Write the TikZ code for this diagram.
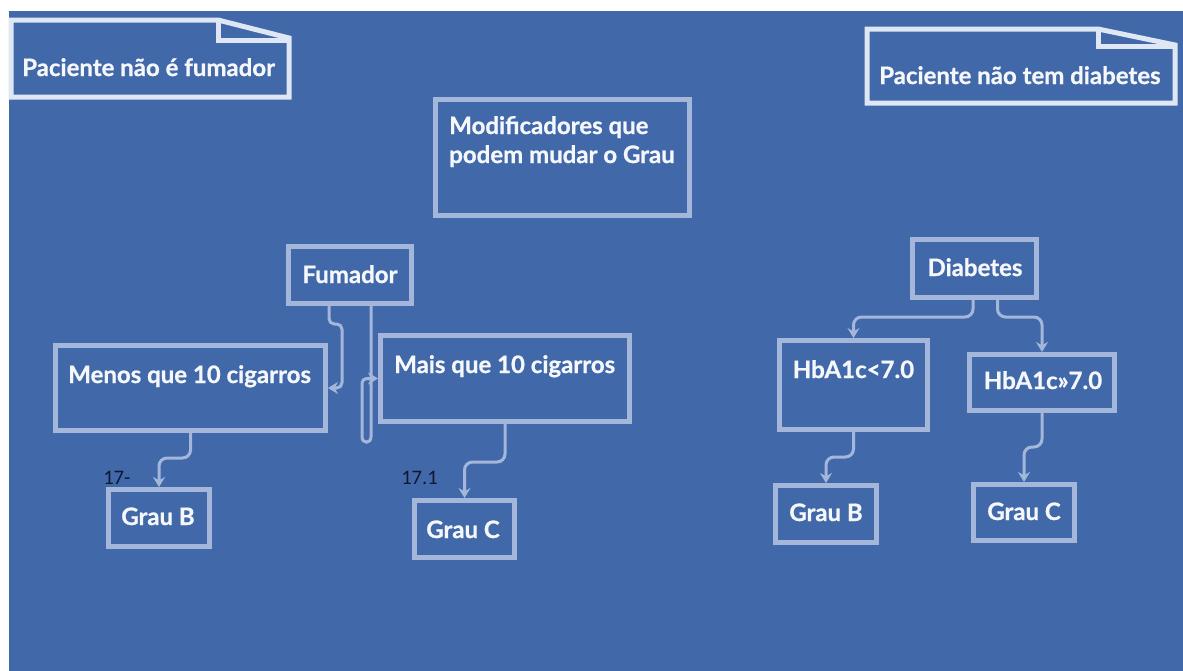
\documentclass[tikz,border=0pt]{standalone}
\usepackage{fontspec}
\setmainfont{Lato}[BoldFeatures={FakeBold=0.8}]
\newfontfamily\numfont{Carlito}
\usetikzlibrary{arrows.meta,calc}
\definecolor{slide}{HTML}{4169A9}
\definecolor{frame}{HTML}{A4B7DB}
\definecolor{notefr}{HTML}{DFE6F4}
\definecolor{ink}{HTML}{F5F7FB}
\definecolor{numink}{HTML}{101830}
\begin{document}
\begin{tikzpicture}[x=0.75pt,y=-0.75pt,
  box/.style={draw=frame,line width=3.75pt,inner sep=0pt,rectangle},
  note/.style={draw=notefr,line width=3.75pt,line join=miter},
  lbl/.style={text=ink,inner sep=0pt,font=\bfseries\fontsize{18}{21.75}\selectfont},
  num/.style={text=numink,inner sep=0pt,font=\numfont\fontsize{15.5}{17}\selectfont},
  conn/.style={draw=frame,line width=2.25pt,rounded corners=6pt,
    -{Stealth[length=7.5pt,width=9pt,inset=2.5pt]}}]
\useasboundingbox (0,0) rectangle (1183,671);
\fill[white] (0,0) rectangle (1183,671);
\fill[slide] (9,11) rectangle (1183,671);

% folded-corner notes
\draw[note] (11,20) -- (218,20) -- (289,38) -- (289,97) -- (11,97) -- cycle;
\draw[note] (218,20) -- (218,40) -- (289,40);
\node[lbl,anchor=base west] (nofum) at (22,76) {Paciente não é fumador};

\draw[note] (867,29) -- (1098,29) -- (1175,45) -- (1175,103) -- (867,103) -- cycle;
\draw[note] (1098,29) -- (1098,46) -- (1175,46);
\node[lbl,anchor=base west] (nodiab) at (879,84) {Paciente não tem diabetes};

% boxes
\node[box,minimum width=254*0.75pt,minimum height=116*0.75pt] (modif) at (562.5,157.5) {};
\node[box,minimum width=123*0.75pt,minimum height=57*0.75pt] (fum) at (350,275) {};
\node[box,minimum width=270*0.75pt,minimum height=85*0.75pt] (menos) at (190.5,388) {};
\node[box,minimum width=249*0.75pt,minimum height=86*0.75pt] (mais) at (505,378.5) {};
\node[box,minimum width=101*0.75pt,minimum height=57*0.75pt] (gb1) at (159,518) {};
\node[box,minimum width=100*0.75pt,minimum height=57*0.75pt] (gc1) at (464.5,529) {};
\node[box,minimum width=124*0.75pt,minimum height=58*0.75pt] (diab) at (974.5,268.5) {};
\node[box,minimum width=148*0.75pt,minimum height=89*0.75pt] (hbl) at (853.5,385) {};
\node[box,minimum width=145*0.75pt,minimum height=56*0.75pt] (hbh) at (1042,382.5) {};
\node[box,minimum width=101*0.75pt,minimum height=57*0.75pt] (gb2) at (826,514) {};
\node[box,minimum width=101*0.75pt,minimum height=56*0.75pt] (gc2) at (1024,512.5) {};

% box texts
\node[lbl,anchor=base west] (tmod1) at (449,134) {Modificadores que};
\node[lbl,anchor=base west] (tmod2) at (449,163) {podem mudar o Grau};
\node[lbl,anchor=base] (tfum) at (350,283) {Fumador};
\node[lbl,anchor=base west] (tmenos) at (68,383) {Menos que 10 cigarros};
\node[lbl,anchor=base west] (tmais) at (394,373) {Mais que 10 cigarros};
\node[lbl,anchor=base] (tgb1) at (158,525) {Grau B};
\node[lbl,anchor=base] (tgc1) at (463,538) {Grau C};
\node[lbl,anchor=base] (tdiab) at (975,276) {Diabetes};
\node[lbl,anchor=base] (thbl) at (853.5,378) {HbA1c<7.0};
\node[lbl,anchor=base] (thbh) at (1043,389) {HbA1c»7.0};
\node[lbl,anchor=base] (tgb2) at (826,521) {Grau B};
\node[lbl,anchor=base] (tgc2) at (1024,520) {Grau C};

% small numbers
\node[num,anchor=base west] (n17a) at (103,484) {17-};
\node[num,anchor=base west] (n17b) at (401,484) {17.1};

% connectors
\draw[conn,rounded corners=4pt] ($(fum.south)+(-21,0)$) |- ++(13,18) |- (menos.east);
\draw[conn,rounded corners=3.5pt] ($(fum.south)+(21,0)$) -- ++(0,126)
  .. controls +(0,12) and +(0,12) .. ++(-9,0) |- (mais.west);
\draw[conn] (menos.south) -- (menos.south |- 0,458) -| (gb1.north);
\draw[conn] (mais.south) -- (mais.south |- 0,462) -| (gc1.north);
\draw[conn] ($(diab.south)+(-1.5,0)$) -- ++(0,17) -| (hbl.north);
\draw[conn] ($(diab.south)+(23,0)$) -- ++(0,17) -| (hbh.north);
\draw[conn] (hbl.south) -- (hbl.south |- 0,457) -| (gb2.north);
\draw[conn] (hbh.south) -- (hbh.south |- 0,447) -| (gc2.north);
\end{tikzpicture}
\end{document}
